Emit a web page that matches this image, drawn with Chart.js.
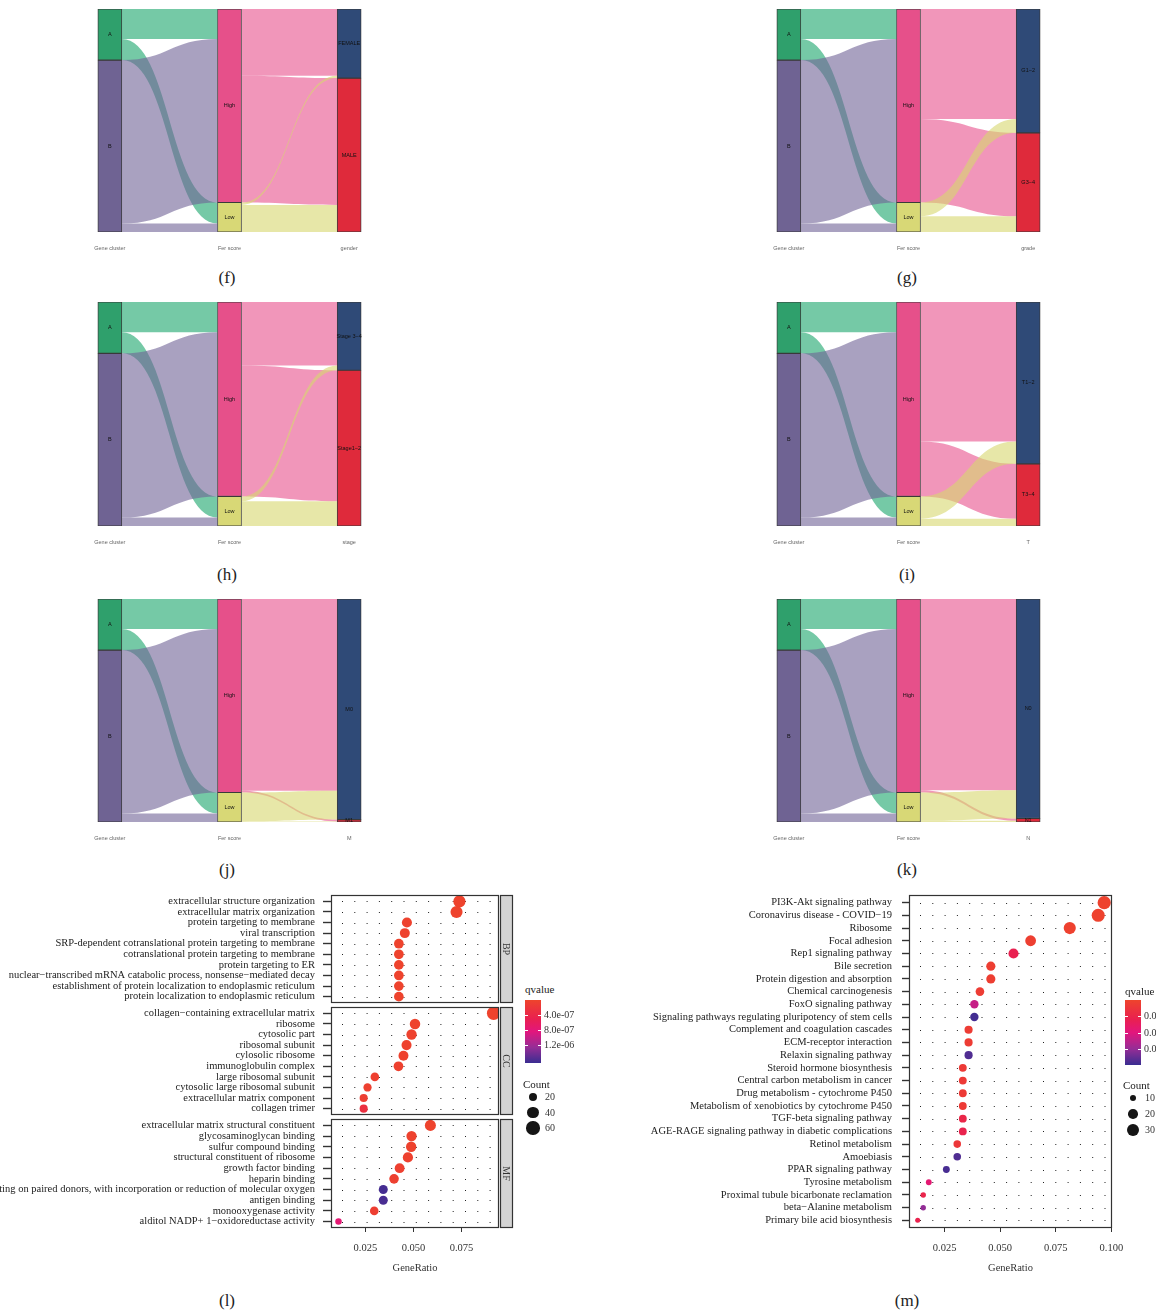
<!DOCTYPE html>
<html><head><meta charset="utf-8">
<script src="https://cdn.jsdelivr.net/npm/chart.js@4.4.1/dist/chart.umd.min.js"></script>
<style>
html,body{margin:0;padding:0;background:#fff;}
body{position:relative;width:1156px;height:1311px;overflow:hidden;}
canvas{position:absolute;}
.t{position:absolute;white-space:nowrap;font-family:"Liberation Serif","Times New Roman",serif;color:#222;line-height:1;}
</style></head><body>
<script>
// ===================== DATA =====================
// Alluvial panels (f)-(k)
const axisNames = ['Gene cluster', 'Fer score'];
const geneClusterLevels = ['A', 'B'];
const ferScoreLevels = ['High', 'Low'];
const clusterToFer = [[50, 35], [272, 14]];          // rows: A,B ; cols: High,Low

const genderLevels = ['FEMALE', 'MALE'];
const ferToGender = [[111, 211], [4, 45]];          // rows: High,Low
const gradeLevels = ['G1\u22122', 'G3\u22124'];
const ferToGrade = [[183, 139], [23, 26]];
const stageLevels = ['Stage 3\u22124', 'Stage1\u22122'];
const ferToStage = [[105, 217], [8, 41]];
const tLevels = ['T1\u22122', 'T3\u22124'];
const ferToT = [[231, 91], [37, 12]];
const mLevels = ['M0', 'M1'];
const ferToM = [[319, 3], [48, 1]];
const nLevels = ['N0', 'N1'];
const ferToN = [[318, 4], [47, 2]];

// Panel (l): GO enrichment
const bpTerms = ['extracellular structure organization', 'extracellular matrix organization', 'protein targeting to membrane', 'viral transcription', 'SRP-dependent cotranslational protein targeting to membrane', 'cotranslational protein targeting to membrane', 'protein targeting to ER', 'nuclear\u2212transcribed mRNA catabolic process, nonsense\u2212mediated decay', 'establishment of protein localization to endoplasmic reticulum', 'protein localization to endoplasmic reticulum'];
const bpRatio = [0.0739, 0.0724, 0.0466, 0.0455, 0.0424, 0.0424, 0.0424, 0.0424, 0.0424, 0.0424];
const bpCount = [48, 47, 30, 29, 27, 27, 27, 27, 27, 27];
const bpQ = [2e-8, 2e-8, 3e-8, 3e-8, 2e-8, 2e-8, 2e-8, 2e-8, 2e-8, 2e-8];

const ccTerms = ['collagen\u2212containing extracellular matrix', 'ribosome', 'cytosolic part', 'ribosomal subunit', 'cylosolic ribosome', 'immunoglobulin complex', 'large ribosomal subunit', 'cytosolic large ribosomal subunit', 'extracellular matrix component', 'collagen trimer'];
const ccRatio = [0.0917, 0.0508, 0.0490, 0.0464, 0.0448, 0.0422, 0.0299, 0.0261, 0.0241, 0.0241];
const ccCount = [60, 33, 32, 30, 29, 27, 19, 17, 16, 16];
const ccQ = [1e-8, 2e-8, 3e-8, 3e-8, 3e-8, 4e-8, 5e-8, 6e-8, 8e-8, 2.8e-7];

const mfTerms = ['extracellular matrix structural constituent', 'glycosaminoglycan binding', 'sulfur compound binding', 'structural constituent of ribosome', 'growth factor binding', 'heparin binding', 'oxidoreductase activity, acting on paired donors, with incorporation or reduction of molecular oxygen', 'antigen binding', 'monooxygenase activity', 'alditol NADP+ 1\u2212oxidoreductase activity'];
const mfRatio = [0.0588, 0.0490, 0.0488, 0.0471, 0.0428, 0.0399, 0.0343, 0.0343, 0.0296, 0.0110];
const mfCount = [38, 32, 32, 31, 28, 26, 22, 22, 19, 7];
const mfQ = [1e-8, 3e-8, 3e-8, 4e-8, 5e-8, 6e-8, 1.62e-6, 1.60e-6, 9e-8, 7.6e-7];

const lXTicks = [0.025, 0.05, 0.075];
const lQTicks = [4e-7, 8e-7, 1.2e-6];
const lQTickLabels = ['4.0e-07', '8.0e-07', '1.2e-06'];
const lCountLegend = [20, 40, 60];

// Panel (m): KEGG enrichment
const mTerms = ['PI3K-Akt signaling pathway', 'Coronavirus disease - COVID\u221219', 'Ribosome', 'Focal adhesion', 'Rep1 signaling pathway', 'Bile secretion', 'Protein digestion and absorption', 'Chemical carcinogenesis', 'FoxO signaling pathway', 'Signaling pathways regulating pluripotency of stem cells', 'Complement and coagulation cascades', 'ECM-receptor interaction', 'Relaxin signaling pathway', 'Steroid hormone biosynthesis', 'Central carbon metabolism in cancer', 'Drug metabolism - cytochrome P450', 'Metabolism of xenobiotics by cytochrome P450', 'TGF-beta signaling pathway', 'AGE-RAGE signaling pathway in diabetic complications', 'Retinol metabolism', 'Amoebiasis', 'PPAR signaling pathway', 'Tyrosine metabolism', 'Proximal tubule bicarbonate reclamation', 'beta\u2212Alanine metabolism', 'Primary bile acid biosynthesis'];
const mRatio = [0.0968, 0.0941, 0.0813, 0.0637, 0.0560, 0.0458, 0.0458, 0.0409, 0.0384, 0.0384, 0.0358, 0.0358, 0.0358, 0.0332, 0.0332, 0.0332, 0.0332, 0.0332, 0.0332, 0.0307, 0.0307, 0.0258, 0.0179, 0.0154, 0.0154, 0.0129];
const mCount = [38, 37, 32, 25, 22, 18, 18, 16, 15, 15, 14, 14, 14, 13, 13, 13, 13, 13, 13, 12, 12, 10, 7, 6, 6, 5];
const mQ = [0.0010, 0.0012, 0.0015, 0.0020, 0.0121, 0.0025, 0.0025, 0.0030, 0.0235, 0.0385, 0.0030, 0.0030, 0.0372, 0.0035, 0.0035, 0.0035, 0.0035, 0.0100, 0.0110, 0.0045, 0.0372, 0.0380, 0.0180, 0.0105, 0.0300, 0.0115];

const mXTicks = [0.025, 0.05, 0.075, 0.1];
const mQTicks = [0.01, 0.02, 0.03];
const mQTickLabels = ['0.01', '0.02', '0.03'];
const mCountLegend = [10, 20, 30];

// ===================== STYLE =====================
const SANS = '"Liberation Sans", Arial, sans-serif';
const SERIF = '"Liberation Serif", "Times New Roman", serif';
Chart.defaults.font.family = SANS;

const clusterFill = ['#2FA06C', '#6F6393'];
const clusterFlow = ['rgba(25,165,107,0.6)', 'rgba(112,98,150,0.6)'];
const ferFill = ['#E6508A', '#D8D876'];
const ferFlow = ['rgba(232,80,140,0.6)', 'rgba(215,215,110,0.6)'];
const thirdFill = ['#2F4A77', '#DF2A3B'];

const qStops = [[0, [238, 68, 44]], [0.3, [233, 32, 80]], [0.5, [226, 22, 125]], [0.75, [150, 45, 150]], [1, [58, 45, 145]]];
function qColorT(t) {
  t = Math.max(0, Math.min(1, t));
  for (let i = 1; i < qStops.length; i++) {
    if (t <= qStops[i][0]) {
      const [t0, c0] = qStops[i - 1], [t1, c1] = qStops[i];
      const f = (t - t0) / (t1 - t0);
      return 'rgb(' + c0.map((v, k) => Math.round(v + (c1[k] - v) * f)).join(',') + ')';
    }
  }
  return 'rgb(' + qStops[qStops.length - 1][1].join(',') + ')';
}
const gradientCss = 'linear-gradient(to bottom,' + qStops.map(s => 'rgb(' + s[1].join(',') + ') ' + (s[0] * 100) + '%').join(',') + ')';

const lQDomain = [0, 1.67e-6];
const mQDomain = [0.0004, 0.0395];
const lR = c => Math.sqrt(6 + 0.65 * c);
const mR = c => Math.sqrt(0.55 + 1.14 * c);

// ===================== HELPERS =====================
function mkCanvas(left, top, w, h) {
  const c = document.createElement('canvas');
  c.width = w; c.height = h;
  c.style.left = left + 'px'; c.style.top = top + 'px';
  c.style.width = w + 'px'; c.style.height = h + 'px';
  document.body.appendChild(c);
  return c;
}
function addText(txt, x, y, size, opts) {
  const d = document.createElement('div');
  d.className = 't';
  d.textContent = txt;
  d.style.left = x + 'px'; d.style.top = y + 'px';
  d.style.fontSize = size + 'px';
  d.style.transform = (opts && opts.center) ? 'translate(-50%,-50%)' : 'translateY(-50%)';
  if (opts && opts.color) d.style.color = opts.color;
  document.body.appendChild(d);
  return d;
}
const sum = a => a.reduce((s, v) => s + v, 0);
function starts(counts) { const s = []; let c = 0; counts.forEach(v => { s.push(c); c += v; }); return s; }
function flowSegs(m, nL, nR) {
  const sL = starts(nL), sR = starts(nR);
  const L = m.map(() => []), R = m.map(() => []);
  m.forEach((row, i) => { let o = sL[i]; row.forEach((v, j) => { L[i][j] = [o, o + v]; o += v; }); });
  nR.forEach((_, j) => { let o = sR[j]; m.forEach((row, i) => { R[i][j] = [o, o + row[j]]; o += row[j]; }); });
  const segs = [];
  m.forEach((row, i) => row.forEach((v, j) => { if (v > 0) segs.push({ i, j, l: L[i][j], r: R[i][j] }); }));
  return segs;
}
function drawFlow(ctx, xa, xb, ya0, ya1, yb0, yb1, color) {
  const xm = (xa + xb) / 2;
  ctx.beginPath();
  ctx.moveTo(xa, ya0);
  ctx.bezierCurveTo(xm, ya0, xm, yb0, xb, yb0);
  ctx.lineTo(xb, yb1);
  ctx.bezierCurveTo(xm, yb1, xm, ya1, xa, ya1);
  ctx.closePath();
  ctx.fillStyle = color;
  ctx.fill();
}

// ===================== ALLUVIAL =====================
function alluvial(left, areaTop, areaBottom, thirdName, l3, m23) {
  const padTop = 4, axisH = 24, W = 359;
  const H = padTop + (areaBottom - areaTop) + axisH;
  const cv = mkCanvas(left, areaTop - padTop, W, H);
  const n1 = clusterToFer.map(sum);
  const n2 = ferScoreLevels.map((_, j) => sum(clusterToFer.map(r => r[j])));
  const n3 = l3.map((_, k) => sum(m23.map(r => r[k])));
  const N = sum(n1);
  const cols = [
    { levels: geneClusterLevels, counts: n1, fill: clusterFill },
    { levels: ferScoreLevels, counts: n2, fill: ferFill },
    { levels: l3, counts: n3, fill: thirdFill }
  ];
  const datasets = [];
  cols.forEach((col, ci) => {
    const st = starts(col.counts);
    col.levels.forEach((lv, k) => {
      const d = [null, null, null];
      d[ci] = [st[k], st[k] + col.counts[k]];
      datasets.push({ label: lv, data: d, backgroundColor: col.fill[k], borderColor: '#3a3a3a', borderWidth: 0.9, borderSkipped: false, barThickness: 24, grouped: false });
    });
  });
  const segs1 = flowSegs(clusterToFer, n1, n2);
  const segs2 = flowSegs(m23, n2, n3);
  const plugin = {
    id: 'alluvialFlows',
    beforeDatasetsDraw(chart) {
      const { ctx, scales: { x, y } } = chart;
      const hw = 12;
      const draw = (segs, c0, colors) => {
        const xa = x.getPixelForValue(c0) + hw, xb = x.getPixelForValue(c0 + 1) - hw;
        segs.forEach(s => drawFlow(ctx, xa, xb, y.getPixelForValue(s.l[0]), y.getPixelForValue(s.l[1]), y.getPixelForValue(s.r[0]), y.getPixelForValue(s.r[1]), colors[s.i]));
      };
      ctx.save();
      draw(segs1, 0, clusterFlow);
      draw(segs2, 1, ferFlow);
      ctx.restore();
    },
    afterDatasetsDraw(chart) {
      const { ctx, scales: { x, y } } = chart;
      ctx.save();
      ctx.font = '5.5px ' + SANS;
      ctx.fillStyle = '#111';
      ctx.textAlign = 'center';
      ctx.textBaseline = 'middle';
      cols.forEach((col, ci) => {
        const st = starts(col.counts);
        col.levels.forEach((lv, k) => {
          const yc = (y.getPixelForValue(st[k]) + y.getPixelForValue(st[k] + col.counts[k])) / 2;
          ctx.fillText(lv, x.getPixelForValue(ci), yc);
        });
      });
      ctx.restore();
    }
  };
  new Chart(cv, {
    type: 'bar',
    data: { labels: [...axisNames, thirdName], datasets },
    options: {
      responsive: false, animation: false, devicePixelRatio: 1, events: [],
      layout: { padding: { top: padTop, left: 0, right: 0, bottom: 0 } },
      plugins: { legend: { display: false }, tooltip: { enabled: false } },
      scales: {
        x: {
          type: 'category', offset: true, stacked: true,
          grid: { display: false, drawTicks: false }, border: { display: false },
          ticks: { padding: 12.7, color: '#666', font: { size: 5.5, family: SANS }, maxRotation: 0 },
          afterFit: s => { s.height = axisH; s.paddingLeft = 0; s.paddingRight = 0; }
        },
        y: { type: 'linear', min: 0, max: N, reverse: true, display: false, stacked: false }
      }
    },
    plugins: [plugin]
  });
}

alluvial(50, 9, 232, 'gender', genderLevels, ferToGender);
alluvial(729, 9, 232, 'grade', gradeLevels, ferToGrade);
alluvial(50, 302, 526, 'stage', stageLevels, ferToStage);
alluvial(729, 302, 526, 'T', tLevels, ferToT);
alluvial(50, 599, 822, 'M', mLevels, ferToM);
alluvial(729, 599, 822, 'N', nLevels, ferToN);

// ===================== DOT PLOTS =====================
function dotChart(o) {
  const cv = mkCanvas(o.left, o.top, o.width, o.height);
  const n = o.terms.length;
  const plugin = {
    id: 'panelDeco',
    beforeDatasetsDraw(chart) {
      const { ctx, chartArea: ca, scales: { y } } = chart;
      ctx.save();
      ctx.strokeStyle = '#222'; ctx.lineWidth = 1;
      ctx.setLineDash([1, 11.3]); ctx.lineDashOffset = 1.3;
      for (let i = 0; i < n; i++) {
        const py = Math.round(y.getPixelForValue(i)) + 0.5;
        ctx.beginPath(); ctx.moveTo(ca.left, py); ctx.lineTo(ca.right, py); ctx.stroke();
      }
      ctx.restore();
    },
    afterDatasetsDraw(chart) {
      const { ctx, chartArea: ca } = chart;
      ctx.save();
      ctx.strokeStyle = '#333'; ctx.lineWidth = 1.2;
      ctx.strokeRect(ca.left + 0.5, ca.top + 0.5, ca.right - ca.left - 1, ca.bottom - ca.top - 1);
      if (o.strip) {
        const sx = ca.right + 1, sw = 13;
        ctx.fillStyle = '#D4D4D4';
        ctx.fillRect(sx, ca.top, sw, ca.bottom - ca.top);
        ctx.strokeRect(sx + 0.5, ca.top + 0.5, sw - 1, ca.bottom - ca.top - 1);
        ctx.translate(sx + sw / 2, (ca.top + ca.bottom) / 2);
        ctx.rotate(Math.PI / 2);
        ctx.fillStyle = '#333';
        ctx.font = '10px ' + SERIF;
        ctx.textAlign = 'center'; ctx.textBaseline = 'middle';
        ctx.fillText(o.strip, 0, 0.5);
      }
      ctx.restore();
    }
  };
  new Chart(cv, {
    type: 'scatter',
    data: {
      datasets: [{
        data: o.ratio.map((r, i) => ({ x: r, y: i })),
        pointRadius: c => o.rFn(o.count[c.dataIndex]),
        pointHoverRadius: c => o.rFn(o.count[c.dataIndex]),
        backgroundColor: c => qColorT((o.q[c.dataIndex] - o.qDomain[0]) / (o.qDomain[1] - o.qDomain[0])),
        borderWidth: 0
      }]
    },
    options: {
      responsive: false, animation: false, devicePixelRatio: 1, events: [],
      layout: { padding: { top: o.padTop, right: o.padRight, bottom: o.padBottom, left: 0 } },
      plugins: { legend: { display: false }, tooltip: { enabled: false } },
      scales: {
        x: {
          type: 'linear', min: o.xMin, max: o.xMax, display: o.showX,
          afterBuildTicks: s => { s.ticks = o.xTicks.map(v => ({ value: v })); },
          afterFit: s => { s.height = o.showX ? 51 : 0; s.paddingLeft = 0; s.paddingRight = 0; },
          grid: { display: true, drawOnChartArea: false, drawTicks: true, tickLength: 4, color: '#333', tickColor: '#333', lineWidth: 1 },
          border: { display: false },
          ticks: { padding: 10, color: '#333', autoSkip: false, maxRotation: 0, font: { family: SERIF, size: 10.5, lineHeight: 1.2 }, callback: v => Number(v).toFixed(3) },
          title: { display: o.showX, text: 'GeneRatio', color: '#333', font: { family: SERIF, size: 10.5, lineHeight: 1.2 }, padding: { top: 0, bottom: 4 } }
        },
        y: {
          type: 'linear', min: -0.6, max: n - 0.4, reverse: true,
          afterBuildTicks: s => { s.ticks = o.terms.map((_, i) => ({ value: i })); },
          afterFit: s => { s.width = o.yAxisW; s.paddingTop = 0; s.paddingBottom = 0; },
          grid: { display: true, drawOnChartArea: false, drawTicks: true, tickLength: o.tickLen, color: '#333', tickColor: '#333', tickWidth: 1.4 },
          border: { display: false },
          ticks: { autoSkip: false, padding: o.tickPad, color: '#222', font: { family: SERIF, size: 10.5, lineHeight: 1 }, callback: (v, i) => o.terms[i] }
        }
      }
    },
    plugins: [plugin]
  });
}

const lBase = { left: 0, width: 520, padRight: 21, yAxisW: 331, xMin: 0.0071, xMax: 0.0945, xTicks: lXTicks, rFn: lR, qDomain: lQDomain, tickLen: 8, tickPad: 8 };
dotChart(Object.assign({}, lBase, { top: 885, height: 125, padTop: 10, padBottom: 7, showX: false, terms: bpTerms, ratio: bpRatio, count: bpCount, q: bpQ, strip: 'BP' }));
dotChart(Object.assign({}, lBase, { top: 999, height: 125, padTop: 8, padBottom: 9, showX: false, terms: ccTerms, ratio: ccRatio, count: ccCount, q: ccQ, strip: 'CC' }));
dotChart(Object.assign({}, lBase, { top: 1111, height: 168, padTop: 8, padBottom: 0, showX: true, terms: mfTerms, ratio: mfRatio, count: mfCount, q: mfQ, strip: 'MF' }));

dotChart({ left: 600, top: 885, width: 530, height: 394, padTop: 10, padBottom: 0, padRight: 18, yAxisW: 309, xMin: 0.009, xMax: 0.1003, xTicks: mXTicks, rFn: mR, qDomain: mQDomain, tickLen: 7, tickPad: 10, showX: true, terms: mTerms, ratio: mRatio, count: mCount, q: mQ, strip: null });

// ===================== LEGENDS =====================
function legend(o) {
  addText('qvalue', o.x, o.titleY, 11);
  const bar = document.createElement('div');
  bar.style.cssText = 'position:absolute;left:' + o.x + 'px;top:' + o.barTop + 'px;width:16px;height:' + o.barH + 'px;background:' + gradientCss + ';';
  document.body.appendChild(bar);
  o.qTicks.forEach((v, i) => {
    const t = (v - o.qDomain[0]) / (o.qDomain[1] - o.qDomain[0]);
    const yy = o.barTop + t * o.barH;
    const tk = document.createElement('div');
    tk.style.cssText = 'position:absolute;left:' + o.x + 'px;top:' + Math.round(yy) + 'px;width:3px;height:1px;background:#fff;';
    document.body.appendChild(tk);
    const tk2 = tk.cloneNode(); tk2.style.left = (o.x + 13) + 'px'; document.body.appendChild(tk2);
    addText(o.qLabels[i], o.x + 19, yy, 10, { color: '#333' });
  });
  addText('Count', o.x - 2, o.countTitleY, 11);
  o.counts.forEach((c, i) => {
    const r = o.rFn(c);
    const d = document.createElement('div');
    d.style.cssText = 'position:absolute;left:' + (o.circleX - r) + 'px;top:' + (o.circleYs[i] - r) + 'px;width:' + (2 * r) + 'px;height:' + (2 * r) + 'px;border-radius:50%;background:#151515;';
    document.body.appendChild(d);
    addText(String(c), o.circleX + 12, o.circleYs[i], 10, { color: '#333' });
  });
}
legend({ x: 525, titleY: 989, barTop: 1000, barH: 63, qDomain: lQDomain, qTicks: lQTicks, qLabels: lQTickLabels, countTitleY: 1084, counts: lCountLegend, rFn: lR, circleX: 533, circleYs: [1097, 1112.5, 1128] });
legend({ x: 1125, titleY: 991, barTop: 1000, barH: 65, qDomain: mQDomain, qTicks: mQTicks, qLabels: mQTickLabels, countTitleY: 1085, counts: mCountLegend, rFn: mR, circleX: 1133, circleYs: [1098, 1114, 1130] });

// ===================== CAPTIONS =====================
[['(f)', 227, 277], ['(g)', 907, 277], ['(h)', 227, 574], ['(i)', 907, 574], ['(j)', 227, 869], ['(k)', 907, 869], ['(l)', 227, 1300], ['(m)', 907, 1300]]
  .forEach(([t, x, y]) => addText(t, x, y, 17, { center: true, color: '#222' }));
</script>
</body></html>
